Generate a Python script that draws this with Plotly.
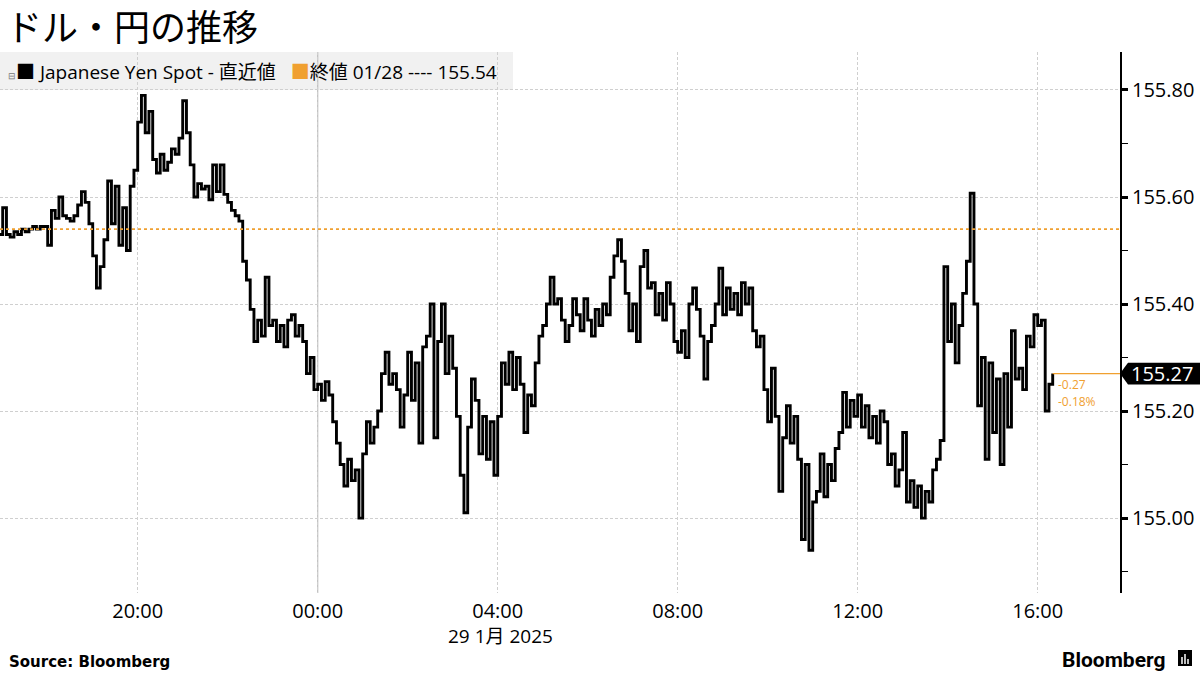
import pandas as pd
import plotly.graph_objects as go

# USD/JPY spot, 5-minute steps from 28 Jan 16:55 to 29 Jan 16:20
start_time = "2025-01-28 16:55"
prev_close = 155.54
last_price = 155.27
last_change = "-0.27"
last_change_pct = "-0.18%"

h1655 = [155.53]
h17 = [155.58, 155.53, 155.525, 155.535, 155.53, 155.54, 155.535, 155.54, 155.545, 155.54, 155.545, 155.545]
h18 = [155.51, 155.575, 155.56, 155.60, 155.565, 155.56, 155.555, 155.565, 155.585, 155.61, 155.59, 155.55]
h19 = [155.49, 155.43, 155.47, 155.52, 155.63, 155.55, 155.62, 155.51, 155.58, 155.50, 155.62, 155.65]
h20 = [155.74, 155.79, 155.72, 155.76, 155.67, 155.645, 155.68, 155.65, 155.665, 155.69, 155.68, 155.71]
h21 = [155.78, 155.72, 155.66, 155.60, 155.625, 155.615, 155.62, 155.595, 155.66, 155.61, 155.66, 155.605]
h22 = [155.59, 155.575, 155.565, 155.555, 155.48, 155.445, 155.39, 155.33, 155.37, 155.34, 155.45, 155.36]
h23 = [155.37, 155.33, 155.36, 155.32, 155.37, 155.38, 155.34, 155.36, 155.33, 155.27, 155.30, 155.24]
h00 = [155.25, 155.22, 155.255, 155.23, 155.18, 155.14, 155.10, 155.06, 155.11, 155.07, 155.09, 155.00]
h01 = [155.12, 155.18, 155.14, 155.17, 155.20, 155.27, 155.31, 155.25, 155.27, 155.24, 155.17, 155.23]
h02 = [155.31, 155.22, 155.29, 155.14, 155.32, 155.34, 155.40, 155.15, 155.33, 155.40, 155.27, 155.34]
h03 = [155.28, 155.19, 155.08, 155.01, 155.17, 155.26, 155.22, 155.12, 155.19, 155.11, 155.18, 155.08]
h04 = [155.19, 155.29, 155.25, 155.31, 155.24, 155.30, 155.25, 155.16, 155.23, 155.21, 155.29, 155.34]
h05 = [155.36, 155.40, 155.45, 155.40, 155.41, 155.37, 155.33, 155.36, 155.41, 155.38, 155.35, 155.41]
h06 = [155.37, 155.34, 155.39, 155.36, 155.40, 155.38, 155.45, 155.49, 155.52, 155.48, 155.42, 155.35]
h07 = [155.40, 155.33, 155.47, 155.50, 155.43, 155.44, 155.38, 155.42, 155.37, 155.44, 155.40, 155.33]
h08 = [155.31, 155.35, 155.30, 155.40, 155.43, 155.39, 155.34, 155.26, 155.33, 155.36, 155.40, 155.467]
h09 = [155.38, 155.43, 155.39, 155.42, 155.38, 155.44, 155.40, 155.43, 155.35, 155.32, 155.34, 155.24]
h10 = [155.18, 155.28, 155.19, 155.05, 155.15, 155.21, 155.14, 155.19, 155.11, 154.96, 155.10, 154.94]
h11 = [155.03, 155.05, 155.12, 155.04, 155.10, 155.07, 155.13, 155.16, 155.235, 155.17, 155.22, 155.19]
h12 = [155.23, 155.17, 155.21, 155.15, 155.19, 155.14, 155.20, 155.18, 155.10, 155.12, 155.06, 155.09]
h13 = [155.16, 155.03, 155.07, 155.02, 155.06, 155.00, 155.05, 155.03, 155.09, 155.11, 155.145, 155.47]
h14 = [155.33, 155.40, 155.29, 155.36, 155.42, 155.48, 155.607, 155.40, 155.21, 155.30, 155.11, 155.29]
h15 = [155.16, 155.26, 155.10, 155.27, 155.17, 155.35, 155.26, 155.28, 155.24, 155.34, 155.32, 155.38]
h16 = [155.36, 155.37, 155.20, 155.25, 155.27]

prices = (h1655 + h17 + h18 + h19 + h20 + h21 + h22 + h23 + h00 + h01 + h02 + h03
          + h04 + h05 + h06 + h07 + h08 + h09 + h10 + h11 + h12 + h13 + h14 + h15 + h16)
times = pd.date_range(start_time, periods=len(prices), freq="5min")

tick_times = ["2025-01-28 20:00", "2025-01-29 00:00", "2025-01-29 04:00",
              "2025-01-29 08:00", "2025-01-29 12:00", "2025-01-29 16:00"]
tick_labels = ["20:00", "00:00", "04:00", "08:00", "12:00", "16:00"]

x_start = pd.Timestamp("2025-01-28 16:56:24")
x_end = pd.Timestamp("2025-01-29 17:49:44")
y_lo, y_hi = 154.86, 155.871

ORANGE = "#f0a030"
GRID = "#cfcfcf"
FONT = "Open Sans, Noto Sans CJK JP, sans-serif"

fig = go.Figure()

fig.add_trace(go.Scatter(
    x=times,
    y=prices,
    mode="lines",
    line=dict(color="black", width=2.9, shape="hv"),
    showlegend=False,
    hoverinfo="skip"
))

# legend background
fig.add_shape(type="rect", xref="paper", yref="paper",
              x0=0, x1=513 / 1120, y0=(593 - 90) / 541, y1=1.0,
              fillcolor="#f1f1f1", line=dict(width=0), layer="below")

# solid day boundary gridline
fig.add_shape(type="line", xref="x", yref="paper",
              x0="2025-01-29 00:00", x1="2025-01-29 00:00", y0=0, y1=1,
              line=dict(color="#bdbdbd", width=1.2), layer="below")

# previous close
fig.add_shape(type="line", xref="paper", yref="y",
              x0=0, x1=1, y0=prev_close, y1=prev_close,
              line=dict(color=ORANGE, width=1.6, dash="dot"))

# last price guide
fig.add_shape(type="line", xref="x", yref="y",
              x0=times[-1], x1=x_end, y0=last_price, y1=last_price,
              line=dict(color=ORANGE, width=1.3))

# last price tag
hh = 0.0205
tip = 1.0
base = 1 + 8 / 1120
end = 1 + 80 / 1120
fig.add_shape(type="path", xref="paper", yref="y",
              path=f"M {tip} {last_price} L {base} {last_price + hh} L {end} {last_price + hh} "
                   f"L {end} {last_price - hh} L {base} {last_price - hh} Z",
              fillcolor="black", line=dict(width=0))
fig.add_annotation(xref="paper", yref="y", x=1 + 42 / 1120, y=last_price,
                   text="155.27", showarrow=False, xanchor="center", yanchor="middle",
                   font=dict(family=FONT, size=20, color="white"))

fig.add_annotation(xref="x", yref="y", x=times[-1], y=155.2505,
                   text=last_change, showarrow=False, xanchor="left", yanchor="middle",
                   xshift=3, font=dict(family=FONT, size=12, color=ORANGE))
fig.add_annotation(xref="x", yref="y", x=times[-1], y=155.2187,
                   text=last_change_pct, showarrow=False, xanchor="left", yanchor="middle",
                   xshift=3, font=dict(family=FONT, size=12, color=ORANGE))

# title
fig.add_annotation(xref="paper", yref="paper", x=4 / 1120, y=(593 - 25) / 541,
                   text="ドル・円の推移", showarrow=False, xanchor="left", yanchor="middle",
                   font=dict(family="Noto Sans CJK JP", size=36, color="black"))

# legend text
fig.add_annotation(xref="paper", yref="paper", x=6 / 1120, y=(593 - 72) / 541,
                   text="<span style='font-size:9px;color:#777'>⊟</span>"
                        "■ Japanese Yen Spot - 直近値   "
                        f"<span style='color:{ORANGE}'>■</span>終値 01/28 ---- 155.54",
                   showarrow=False, xanchor="left", yanchor="middle",
                   font=dict(family=FONT, size=19, color="black"))

# date under x ticks
fig.add_annotation(xref="paper", yref="paper", x=500 / 1120, y=(593 - 636) / 541,
                   text="29 1月 2025", showarrow=False, xanchor="center", yanchor="middle",
                   font=dict(family=FONT, size=19, color="black"))

# footer
fig.add_annotation(xref="paper", yref="paper", x=7 / 1120, y=(593 - 662) / 541,
                   text="<b>Source: Bloomberg</b>", showarrow=False, xanchor="left",
                   yanchor="middle", font=dict(family="DejaVu Sans", size=15, color="black"))
fig.add_annotation(xref="paper", yref="paper", x=1168 / 1120, y=(593 - 660) / 541,
                   text="<b>Bloomberg</b>", showarrow=False, xanchor="right",
                   yanchor="middle", font=dict(family="Roboto", size=21, color="black"))
fig.add_shape(type="rect", xref="paper", yref="paper",
              x0=1178 / 1120, x1=1192 / 1120, y0=(593 - 666) / 541, y1=(593 - 650) / 541,
              fillcolor="black", line=dict(width=0))
for bx, btop in [(1182, 657), (1185, 654), (1188, 659)]:
    fig.add_shape(type="line", xref="paper", yref="paper",
                  x0=bx / 1120, x1=bx / 1120, y0=(593 - 664) / 541, y1=(593 - btop) / 541,
                  line=dict(color="white", width=1.5))

fig.update_xaxes(
    range=[x_start, x_end],
    tickvals=tick_times,
    ticktext=tick_labels,
    showgrid=True,
    gridcolor=GRID,
    griddash="3px,2px",
    gridwidth=1,
    showline=False,
    zeroline=False,
    ticks="",
    ticklabelstandoff=4,
    tickfont=dict(family=FONT, size=20, color="black")
)

fig.update_yaxes(
    side="right",
    range=[y_lo, y_hi],
    tick0=155.0,
    dtick=0.2,
    tickformat=".2f",
    showgrid=True,
    gridcolor=GRID,
    griddash="3px,2px",
    gridwidth=1,
    zeroline=False,
    showline=True,
    linecolor="black",
    linewidth=2,
    ticks="outside",
    ticklen=6,
    tickwidth=3,
    tickcolor="black",
    minor=dict(dtick=0.1, tick0=155.0, ticks="outside", ticklen=6, tickwidth=1,
               tickcolor="black", showgrid=False),
    tickfont=dict(family=FONT, size=20, color="black")
)

fig.update_layout(
    width=1200,
    height=675,
    margin=dict(l=0, r=80, t=52, b=82),
    paper_bgcolor="white",
    plot_bgcolor="white",
    showlegend=False
)

fig.write_html("out.html", config={"displayModeBar": False},
               post_script="document.body.style.margin='0';")
